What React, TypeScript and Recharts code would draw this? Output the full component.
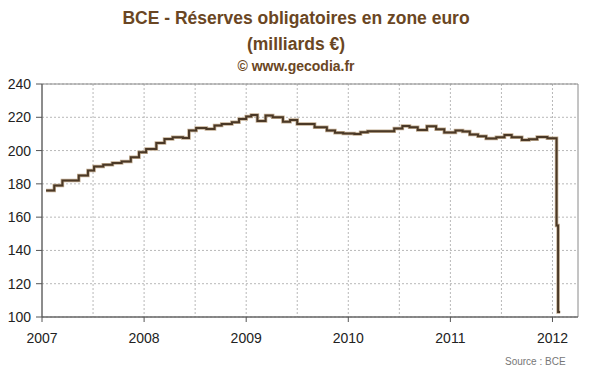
import { CartesianGrid, Line, LineChart, ReferenceArea, XAxis, YAxis } from "recharts";

document.body.style.margin = "0";

// start of each reserve maintenance period (decimal year) and requirement, € bn
const periodStart = [
  2007.04, 2007.12, 2007.2, 2007.36, 2007.45, 2007.51, 2007.6, 2007.69, 2007.78, 2007.87, 2007.95,
  2008.02, 2008.12, 2008.2, 2008.28, 2008.38, 2008.44, 2008.51, 2008.61, 2008.69, 2008.76, 2008.86, 2008.93,
  2009.0, 2009.05, 2009.11, 2009.19, 2009.26, 2009.36, 2009.43, 2009.5, 2009.67, 2009.79, 2009.87, 2009.95,
  2010.06, 2010.12, 2010.19, 2010.45, 2010.53, 2010.6, 2010.68, 2010.77, 2010.86, 2010.94,
  2011.05, 2011.12, 2011.19, 2011.27, 2011.35, 2011.45, 2011.53, 2011.6, 2011.7, 2011.77, 2011.85, 2011.95,
  2012.04, 2012.055, 2012.075,
];
const reserves = [
  176, 179, 182, 185, 188, 190.5, 191.5, 192.5, 193.5, 196, 199,
  201, 204.5, 207, 208, 207.5, 212, 213.5, 213, 215, 216, 217, 219,
  220.5, 221.3, 217.8, 221, 220, 217.3, 218.4, 216, 214, 212, 210.7, 210.2,
  210, 211, 211.6, 213.2, 214.8, 214, 212.4, 214.6, 212.8, 210.8,
  212, 211.4, 209.6, 208.6, 207.3, 208, 209.4, 208, 206.4, 206.8, 208.2, 207.4,
  155, 103, 103,
];

const years = [2007, 2008, 2009, 2010, 2011, 2012];
const yTicks = [100, 120, 140, 160, 180, 200, 220, 240];
const quarterLines = years.flatMap((y) => [y, y + 0.25, y + 0.5, y + 0.75]).filter((q) => q > 2007 && q < 2012.2);

const data = periodStart.map((t, i) => ({ t, v: reserves[i] }));

const font = '"Liberation Sans", Arial, sans-serif';
const tick = { fill: "#222", fontSize: 14, fontFamily: font };
const brown = "#6a4623";

export default function App() {
  return (
    <div style={{ position: "relative", width: 600, height: 372, background: "#fff", fontFamily: font }}>
      <div style={{ position: "absolute", top: 5, left: 0, width: 592, textAlign: "center", color: brown, fontWeight: "bold", fontSize: 17.5, lineHeight: "26px" }}>
        BCE - Réserves obligatoires en zone euro
        <br />
        (milliards €)
      </div>
      <div style={{ position: "absolute", top: 58, left: 0, width: 592, textAlign: "center", color: brown, fontWeight: "bold", fontSize: 14 }}>
        © www.gecodia.fr
      </div>
      <LineChart width={600} height={372} data={data} margin={{ top: 84, right: 22, bottom: 25, left: 6 }}>
        <CartesianGrid stroke="#b8b8b8" strokeDasharray="2 2" verticalValues={quarterLines} horizontalValues={yTicks} />
        <ReferenceArea x1={2007} x2={2012.25} y1={100} y2={240} fill="none" stroke="#8a8a8a" strokeWidth={1} />
        <XAxis dataKey="t" type="number" domain={[2007, 2012.25]} ticks={years} tick={tick} tickSize={5} tickMargin={11} axisLine={{ stroke: "#555" }} tickLine={{ stroke: "#555" }} height={30} allowDataOverflow />
        <YAxis domain={[100, 240]} ticks={yTicks} tick={tick} tickSize={6} tickMargin={5} axisLine={{ stroke: "#555" }} tickLine={{ stroke: "#555" }} width={36} allowDataOverflow />
        <Line type="stepAfter" dataKey="v" stroke="#c2ad92" strokeWidth={3.5} dot={false} isAnimationActive={false} />
        <Line type="stepAfter" dataKey="v" stroke="#4a3826" strokeWidth={2} dot={false} isAnimationActive={false} />
      </LineChart>
      <div style={{ position: "absolute", top: 356, left: 505, color: "#777", fontSize: 10 }}>Source : BCE</div>
    </div>
  );
}
